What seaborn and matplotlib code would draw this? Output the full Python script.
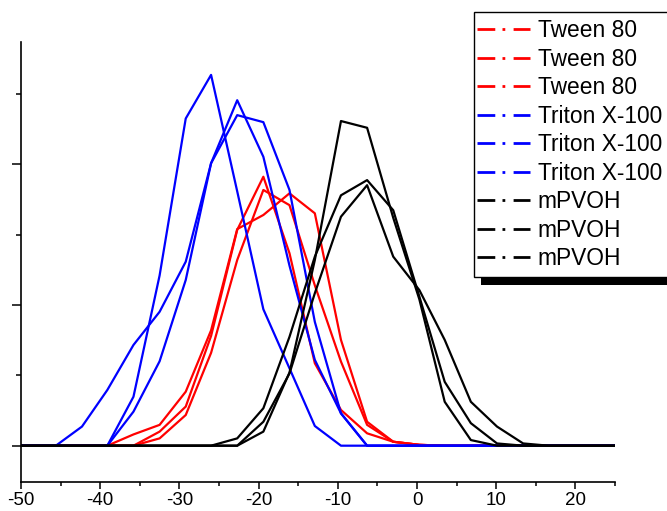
import numpy as np
import pandas as pd
import matplotlib
matplotlib.use("Agg")
import matplotlib.pyplot as plt
from matplotlib.lines import Line2D
from matplotlib.patches import Rectangle
from matplotlib.transforms import IdentityTransform
from matplotlib.ticker import MultipleLocator, NullFormatter
import seaborn as sns

# ---- data ----
x_vals = [-52.2, -48.9, -45.6, -42.3, -39.1, -35.8, -32.5, -29.2, -26.0, -22.7,
          -19.4, -16.1, -12.9, -9.6, -6.3, -3.0, 0.3, 3.5, 6.8, 10.1,
          13.4, 16.6, 19.9, 23.2, 26.5]

tween_1 = [0, 0, 0, 0, 0, 0.40, 0.74, 1.92, 4.10, 7.70, 8.20, 8.97, 8.26, 3.76, 0.85, 0.14, 0.03, 0, 0, 0, 0, 0, 0, 0, 0]
tween_2 = [0, 0, 0, 0, 0, 0, 0.50, 1.39, 3.90, 7.67, 9.56, 6.84, 2.93, 1.27, 0.44, 0.14, 0.03, 0, 0, 0, 0, 0, 0, 0, 0]
tween_3 = [0, 0, 0, 0, 0, 0, 0.26, 1.09, 3.30, 6.60, 9.09, 8.55, 5.70, 2.99, 0.74, 0.14, 0.03, 0, 0, 0, 0, 0, 0, 0, 0]

triton_1 = [0, 0, 0, 0, 0, 1.74, 6.05, 11.63, 13.18, 9.04, 4.85, 2.75, 0.70, 0, 0, 0, 0, 0, 0, 0, 0, 0, 0, 0, 0]
triton_2 = [0, 0, 0, 0, 0, 1.21, 3.00, 5.89, 10.04, 12.28, 10.27, 6.40, 3.05, 1.15, 0, 0, 0, 0, 0, 0, 0, 0, 0, 0, 0]
triton_3 = [0, 0, 0, 0.68, 1.98, 3.58, 4.76, 6.54, 10.04, 11.75, 11.50, 9.09, 4.40, 1.15, 0, 0, 0, 0, 0, 0, 0, 0, 0, 0, 0]

mpvoh_1 = [0, 0, 0, 0, 0, 0, 0, 0, 0, 0, 0.50, 2.60, 6.60, 11.54, 11.30, 8.10, 5.20, 1.56, 0.20, 0, 0, 0, 0, 0, 0]
mpvoh_2 = [0, 0, 0, 0, 0, 0, 0, 0, 0, 0.26, 1.33, 3.87, 6.72, 8.90, 9.44, 8.37, 5.30, 2.27, 0.80, 0.08, 0, 0, 0, 0, 0]
mpvoh_3 = [0, 0, 0, 0, 0, 0, 0, 0, 0, 0, 0.85, 2.57, 5.42, 8.14, 9.26, 6.72, 5.53, 3.76, 1.56, 0.68, 0.08, 0, 0, 0, 0]

series_names = ["Tween 80", "Tween 80", "Tween 80",
                "Triton X-100", "Triton X-100", "Triton X-100",
                "mPVOH", "mPVOH", "mPVOH"]
series_values = [tween_1, tween_2, tween_3,
                 triton_1, triton_2, triton_3,
                 mpvoh_1, mpvoh_2, mpvoh_3]
series_colors = ["#ff0000"] * 3 + ["#0000ff"] * 3 + ["#000000"] * 3

x_major_ticks = [-50, -40, -30, -20, -10, 0, 10, 20]

# ---- figure ----
sns.set_style("ticks")
plt.rcParams["font.family"] = ["Liberation Sans", "DejaVu Sans"]
plt.rcParams["text.color"] = "black"

W, H = 667, 511
fig = plt.figure(figsize=(W / 100, H / 100), dpi=100)
ax = fig.add_axes([21 / W, 1 - 481.7 / H, (615 - 21) / W, (481.7 - 41.7) / H])

for name, vals, col in zip(series_names, series_values, series_colors):
    df = pd.DataFrame({"x": x_vals, "y": vals})
    sns.lineplot(data=df, x="x", y="y", ax=ax, color=col, linewidth=1.6,
                 legend=False, estimator=None, sort=False)

ax.set_xlim(-50, 25)
ax.set_ylim(-1.28, 14.36)
ax.set_xlabel("")
ax.set_ylabel("")

for s in ["top", "right"]:
    ax.spines[s].set_visible(False)
for s in ["left", "bottom"]:
    ax.spines[s].set_color("black")
    ax.spines[s].set_linewidth(1.2)

ax.set_xticks(x_major_ticks)
ax.set_xticklabels([str(t) for t in x_major_ticks])
ax.xaxis.set_minor_locator(MultipleLocator(5))
ax.yaxis.set_major_locator(MultipleLocator(5))
ax.yaxis.set_minor_locator(MultipleLocator(2.5))
ax.yaxis.set_major_formatter(NullFormatter())
ax.tick_params(axis="x", which="major", direction="out", length=5, width=1.1,
               color="black", labelsize=13.5, labelcolor="black", pad=2.5)
ax.tick_params(axis="x", which="minor", direction="out", length=3, width=1.1, color="black")
ax.tick_params(axis="y", which="major", direction="out", length=6.7, width=1.1, color="black")
ax.tick_params(axis="y", which="minor", direction="out", length=3.6, width=1.1, color="black")

# legend with dash-dot handles (frame drawn separately)
fs = 16.4
fs_px = fs * 100 / 72
handles = [Line2D([0], [0], color=c, linewidth=2.0, linestyle=(0, (6.4, 2.6, 1.0, 3.0)))
           for c in series_colors]

target_first = H - 30.7      # display y of first row centre
target_step = 28.5           # row spacing in px
spacing = 0.18
anchor_y = H - 19.5


def make_legend(spacing, anchor_y):
    return fig.legend(handles, series_names, loc="upper left",
                      bbox_to_anchor=(477.3, anchor_y), bbox_transform=IdentityTransform(),
                      frameon=False, borderpad=0, handlelength=2.32, handletextpad=0.34,
                      labelspacing=spacing, borderaxespad=0, prop={"size": fs},
                      labelcolor="black")


leg = make_legend(spacing, anchor_y)
for _ in range(3):
    fig.canvas.draw()
    r = fig.canvas.get_renderer()
    ext = [t.get_window_extent(r) for t in leg.get_texts()]
    c0 = (ext[0].y0 + ext[0].y1) / 2
    c8 = (ext[-1].y0 + ext[-1].y1) / 2
    step = (c0 - c8) / 8
    spacing += (target_step - step) / fs_px
    anchor_y += target_first - c0
    leg.remove()
    leg = make_legend(spacing, anchor_y)
leg.set_zorder(7)

# frame and shadow (pixel coordinates from the reference)
frame = Rectangle((474, H - 277), 300, 277 - 11.7, transform=IdentityTransform(),
                  facecolor="white", edgecolor="black", linewidth=1.0, zorder=6)
shadow = Rectangle((481, H - 285), 300, 277 - 11.7, transform=IdentityTransform(),
                   facecolor="black", edgecolor="none", zorder=5)
fig.add_artist(shadow)
fig.add_artist(frame)

fig.savefig("out.png", dpi=100)
